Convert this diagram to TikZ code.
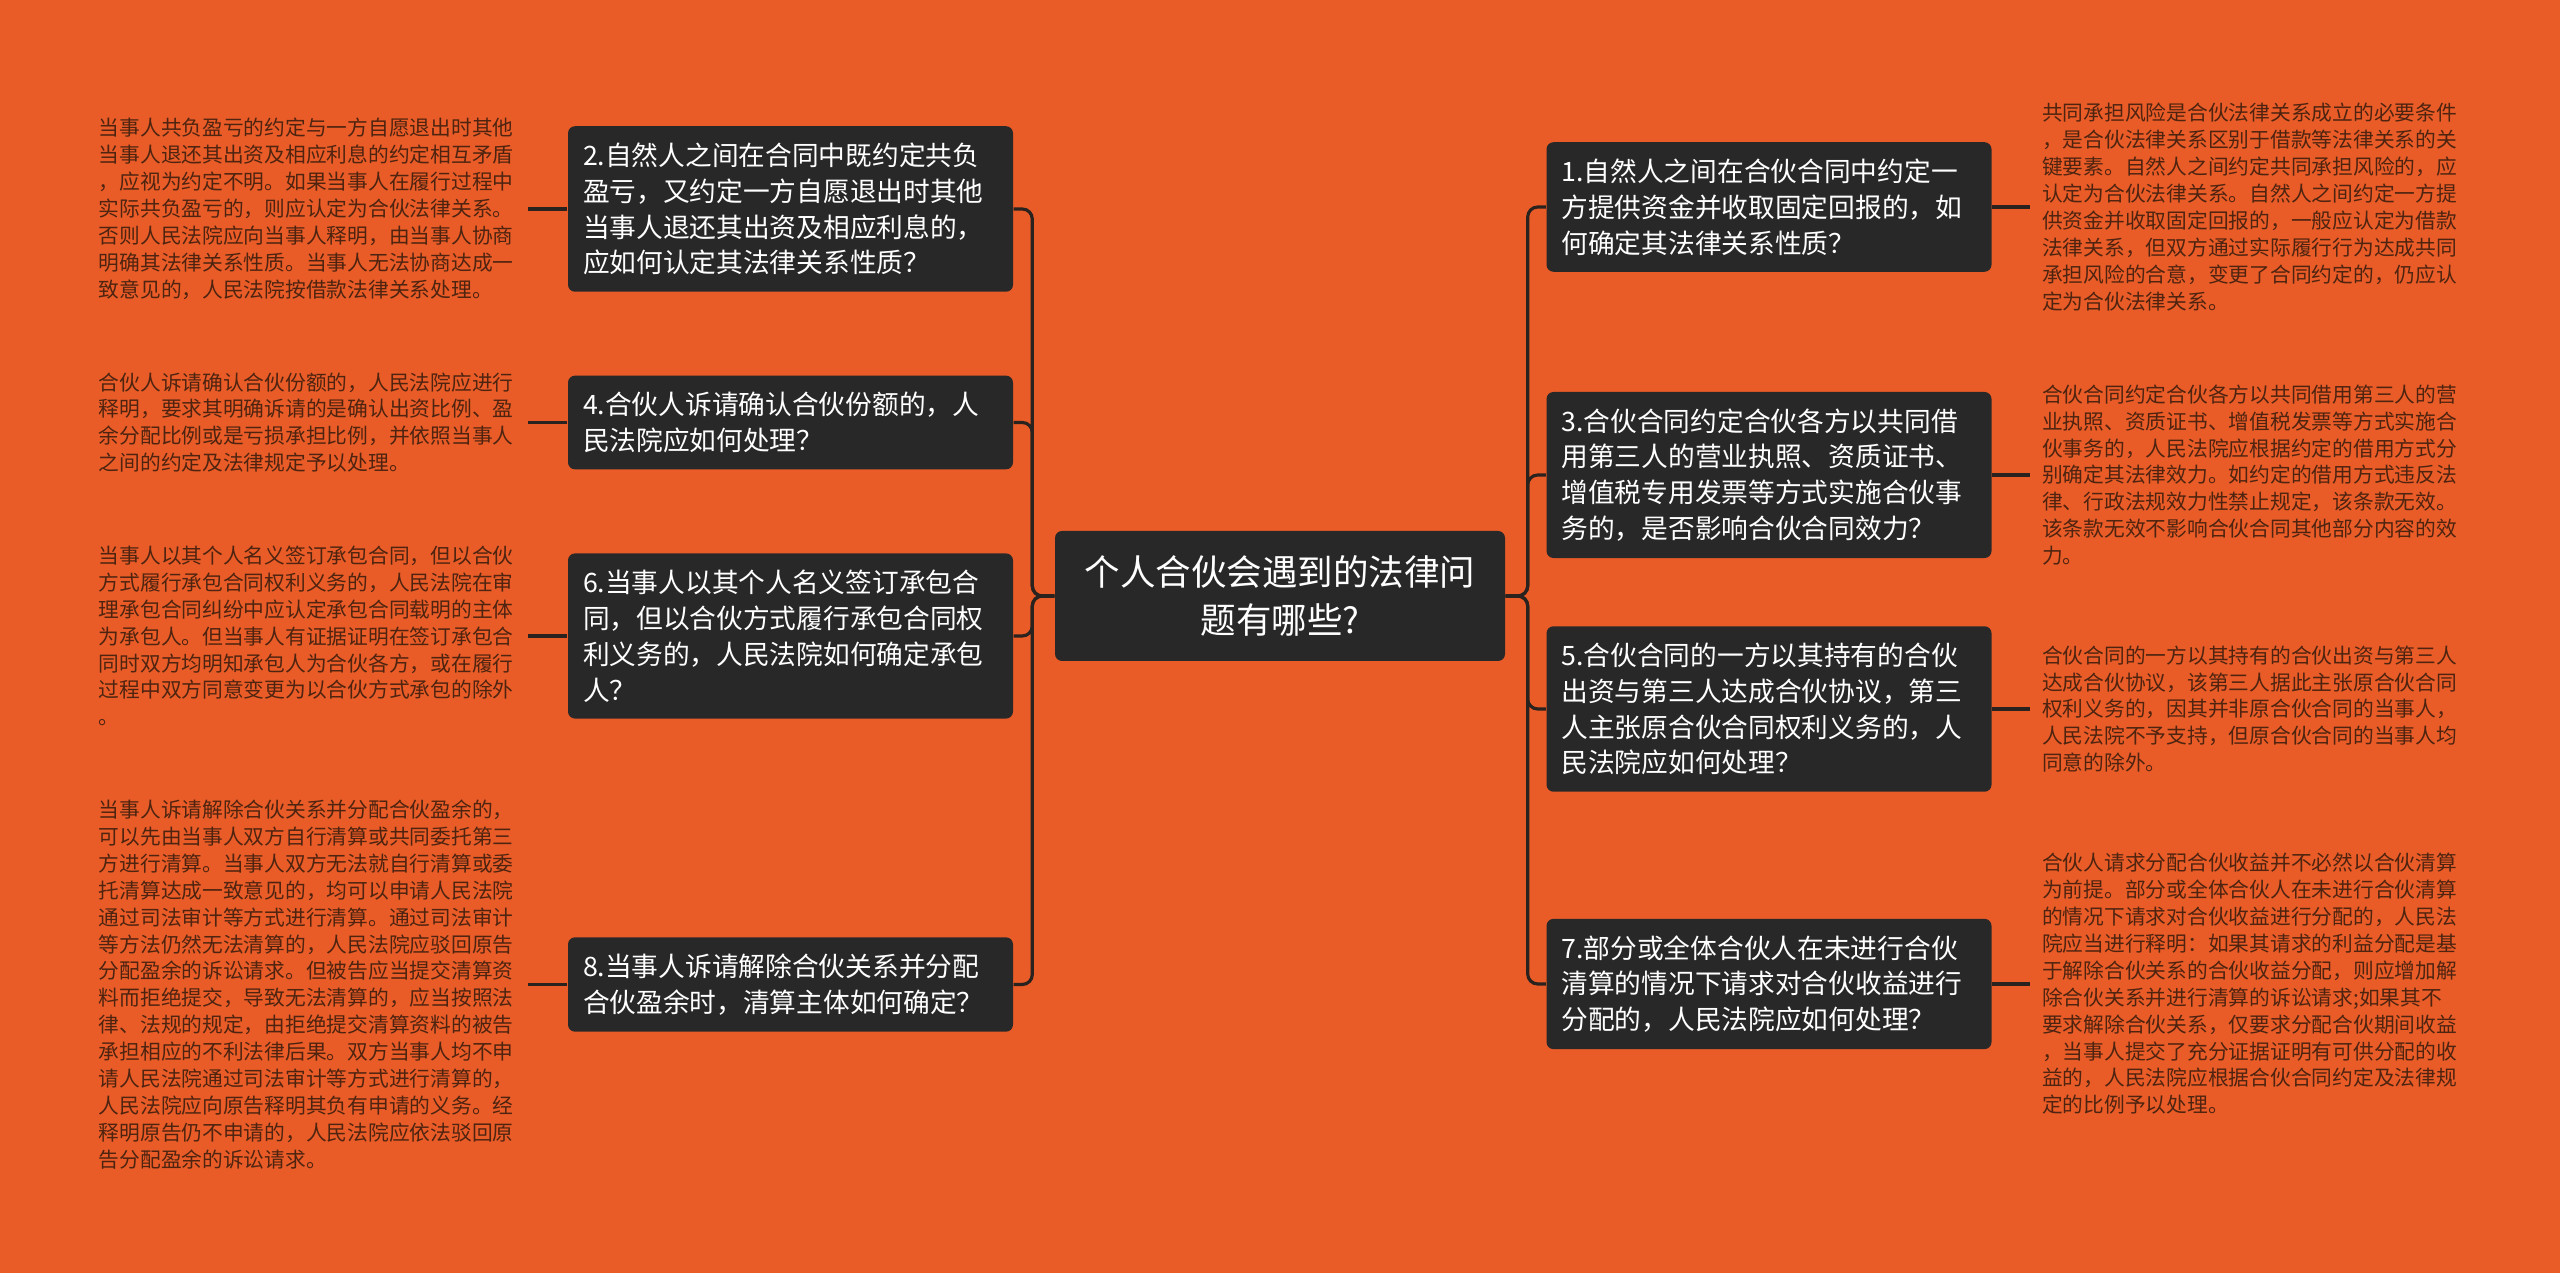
\documentclass[tikz,border=0pt]{standalone}
\usepackage{fontspec}
\setmainfont{Noto Sans CJK SC}
\usepackage{tikz}
\definecolor{bgorange}{RGB}{233,92,40}
\definecolor{boxdark}{RGB}{40,40,40}
\definecolor{linkdark}{RGB}{42,34,30}
\definecolor{leaftext}{RGB}{78,36,16}

\begin{document}
\begin{tikzpicture}
        \tikzset{topic/.style = {shape=rectangle,rounded corners=0.07cm,fill=boxdark,text=white,align=center,minimum width=4.5cm,minimum height=1.3cm,font=\fontsize{10.1pt}{13.4pt}\selectfont}}
        \tikzset{question/.style = {shape=rectangle,rounded corners=0.07cm,fill=boxdark,text=white,align=left,text width=4.15cm,inner xsep=0.15cm,inner ysep=0.165cm,font=\fontsize{7.6pt}{10.2pt}\selectfont}}
        \tikzset{answer/.style = {align=left,text width=4.17cm,inner sep=0.115cm,text=leaftext,font=\fontsize{5.9pt}{7.65pt}\selectfont}}
        \tikzset{wire/.style = {draw=linkdark,line width=0.9pt,rounded corners=0.1cm}}
        % background
        \fill[bgorange] (0,0) rectangle (25.6,12.73);
        % topic
        \node[topic] (root) at (12.80,6.77) {个人合伙会遇到的法律问\\题有哪些?};
        % questions, left
        \node[question] (q2) at (7.905,10.64) {2.自然人之间在合同中既约定共负\\盈亏，又约定一方自愿退出时其他\\当事人退还其出资及相应利息的，\\应如何认定其法律关系性质？};
        \node[question] (q4) at (7.905,8.505) {4.合伙人诉请确认合伙份额的，人\\民法院应如何处理？};
        \node[question] (q6) at (7.905,6.37) {6.当事人以其个人名义签订承包合\\同，但以合伙方式履行承包合同权\\利义务的，人民法院如何确定承包\\人？};
        \node[question] (q8) at (7.905,2.885) {8.当事人诉请解除合伙关系并分配\\合伙盈余时，清算主体如何确定？};
        % questions, right
        \node[question] (q1) at (17.69,10.66) {1.自然人之间在合伙合同中约定一\\方提供资金并收取固定回报的，如\\何确定其法律关系性质？};
        \node[question] (q3) at (17.69,7.98) {3.合伙合同约定合伙各方以共同借\\用第三人的营业执照、资质证书、\\增值税专用发票等方式实施合伙事\\务的，是否影响合伙合同效力？};
        \node[question] (q5) at (17.69,5.64) {5.合伙合同的一方以其持有的合伙\\出资与第三人达成合伙协议，第三\\人主张原合伙合同权利义务的，人\\民法院应如何处理？};
        \node[question] (q7) at (17.69,2.89) {7.部分或全体合伙人在未进行合伙\\清算的情况下请求对合伙收益进行\\分配的，人民法院应如何处理？};
        % answers, left
        \node[answer,anchor=east] (a2) at (5.28,10.64) {当事人共负盈亏的约定与一方自愿退出时其他\\当事人退还其出资及相应利息的约定相互矛盾\\，应视为约定不明。如果当事人在履行过程中\\实际共负盈亏的，则应认定为合伙法律关系。\\否则人民法院应向当事人释明，由当事人协商\\明确其法律关系性质。当事人无法协商达成一\\致意见的，人民法院按借款法律关系处理。};
        \node[answer,anchor=east] (a4) at (5.28,8.505) {合伙人诉请确认合伙份额的，人民法院应进行\\释明，要求其明确诉请的是确认出资比例、盈\\余分配比例或是亏损承担比例，并依照当事人\\之间的约定及法律规定予以处理。};
        \node[answer,anchor=east] (a6) at (5.28,6.37) {当事人以其个人名义签订承包合同，但以合伙\\方式履行承包合同权利义务的，人民法院在审\\理承包合同纠纷中应认定承包合同载明的主体\\为承包人。但当事人有证据证明在签订承包合\\同时双方均明知承包人为合伙各方，或在履行\\过程中双方同意变更为以合伙方式承包的除外\\。};
        \node[answer,anchor=east] (a8) at (5.28,2.885) {当事人诉请解除合伙关系并分配合伙盈余的，\\可以先由当事人双方自行清算或共同委托第三\\方进行清算。当事人双方无法就自行清算或委\\托清算达成一致意见的，均可以申请人民法院\\通过司法审计等方式进行清算。通过司法审计\\等方法仍然无法清算的，人民法院应驳回原告\\分配盈余的诉讼请求。但被告应当提交清算资\\料而拒绝提交，导致无法清算的，应当按照法\\律、法规的规定，由拒绝提交清算资料的被告\\承担相应的不利法律后果。双方当事人均不申\\请人民法院通过司法审计等方式进行清算的，\\人民法院应向原告释明其负有申请的义务。经\\释明原告仍不申请的，人民法院应依法驳回原\\告分配盈余的诉讼请求。};
        % answers, right
        \node[answer,anchor=west] (a1) at (20.30,10.66) {共同承担风险是合伙法律关系成立的必要条件\\，是合伙法律关系区别于借款等法律关系的关\\键要素。自然人之间约定共同承担风险的，应\\认定为合伙法律关系。自然人之间约定一方提\\供资金并收取固定回报的，一般应认定为借款\\法律关系，但双方通过实际履行行为达成共同\\承担风险的合意，变更了合同约定的，仍应认\\定为合伙法律关系。};
        \node[answer,anchor=west] (a3) at (20.30,7.98) {合伙合同约定合伙各方以共同借用第三人的营\\业执照、资质证书、增值税发票等方式实施合\\伙事务的，人民法院应根据约定的借用方式分\\别确定其法律效力。如约定的借用方式违反法\\律、行政法规效力性禁止规定，该条款无效。\\该条款无效不影响合伙合同其他部分内容的效\\力。};
        \node[answer,anchor=west] (a5) at (20.30,5.64) {合伙合同的一方以其持有的合伙出资与第三人\\达成合伙协议，该第三人据此主张原合伙合同\\权利义务的，因其并非原合伙合同的当事人，\\人民法院不予支持，但原合伙合同的当事人均\\同意的除外。};
        \node[answer,anchor=west] (a7) at (20.30,2.89) {合伙人请求分配合伙收益并不必然以合伙清算\\为前提。部分或全体合伙人在未进行合伙清算\\的情况下请求对合伙收益进行分配的，人民法\\院应当进行释明：如果其请求的利益分配是基\\于解除合伙关系的合伙收益分配，则应增加解\\除合伙关系并进行清算的诉讼请求;如果其不\\要求解除合伙关系，仅要求分配合伙期间收益\\，当事人提交了充分证据证明有可供分配的收\\益的，人民法院应根据合伙合同约定及法律规\\定的比例予以处理。};
        % edges
        \draw[wire] (root.west) -- ++(-0.22,0) |- (q2.east);
        \draw[wire] (root.west) -- ++(-0.22,0) |- (q4.east);
        \draw[wire] (root.west) -- ++(-0.22,0) |- (q6.east);
        \draw[wire] (root.west) -- ++(-0.22,0) |- (q8.east);
        \draw[wire] (root.east) -- ++(0.22,0) |- (q1.west);
        \draw[wire] (root.east) -- ++(0.22,0) |- (q3.west);
        \draw[wire] (root.east) -- ++(0.22,0) |- (q5.west);
        \draw[wire] (root.east) -- ++(0.22,0) |- (q7.west);
        \draw[wire] (q2.west) -- (a2.east);
        \draw[wire] (q4.west) -- (a4.east);
        \draw[wire] (q6.west) -- (a6.east);
        \draw[wire] (q8.west) -- (a8.east);
        \draw[wire] (q1.east) -- (a1.west);
        \draw[wire] (q3.east) -- (a3.west);
        \draw[wire] (q5.east) -- (a5.west);
        \draw[wire] (q7.east) -- (a7.west);
\end{tikzpicture}
\end{document}
